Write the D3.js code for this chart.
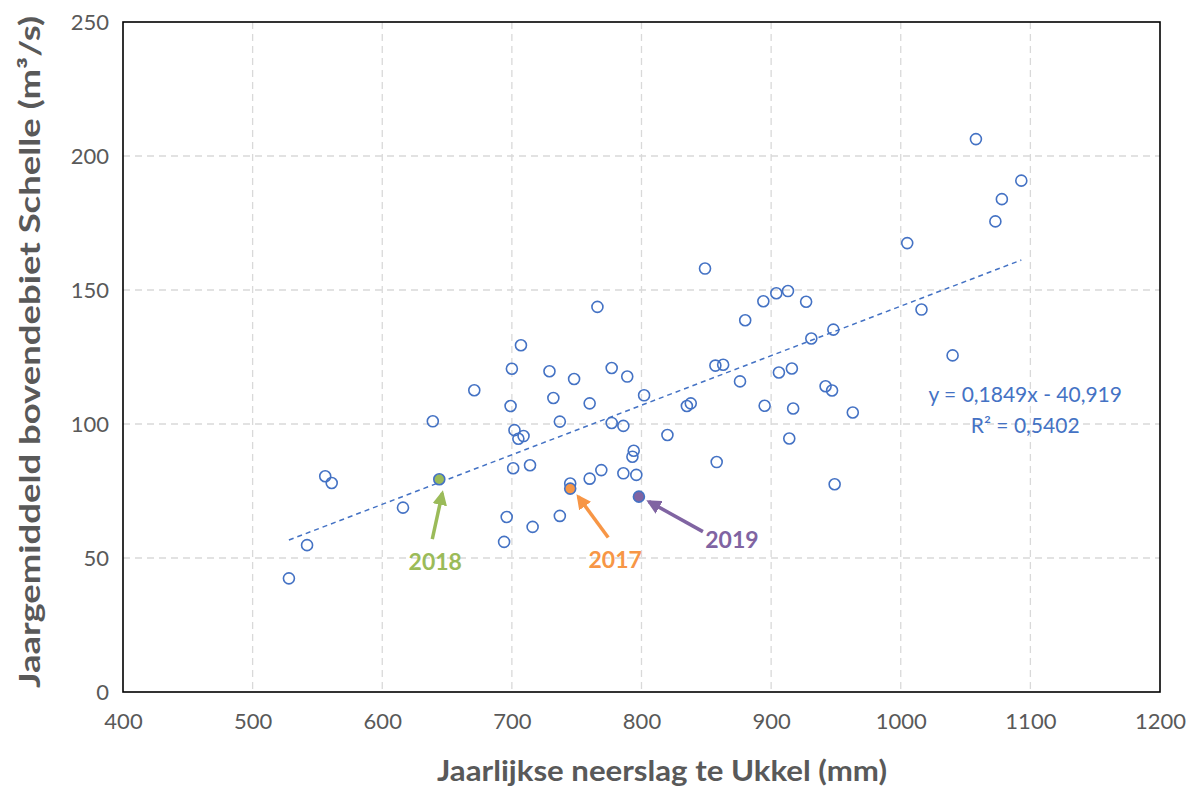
<!DOCTYPE html>
<html>
<head>
<meta charset="utf-8">
<script src="https://cdn.jsdelivr.net/npm/d3@7"></script>
<style>
  body { margin: 0; background: #fff; }
  svg text { font-family: Lato, "Open Sans", sans-serif; }
</style>
</head>
<body>
<svg width="1190" height="789"></svg>
<script>
// Annual precipitation at Ukkel (mm) and annual mean upstream discharge at Schelle (m3/s)
let precipitation = [528, 542, 556, 561, 616, 639, 671, 694, 696, 699, 700, 701, 702, 705, 707, 709, 714, 716,
    729, 732, 737, 737, 745, 748, 760, 760, 766, 769, 777, 777, 786, 786, 789, 793, 794, 796, 802, 820,
    835, 838, 849, 858, 857, 863, 876, 880, 894, 895, 904, 906, 913, 914, 916, 917, 927, 931, 942, 947,
    948, 949, 963, 1005, 1016, 1040, 1058, 1073, 1078, 1093];
let discharge = [42.4, 54.8, 80.5, 78.0, 68.8, 101.0, 112.6, 56.0, 65.3, 106.7, 120.6, 83.5, 97.7, 94.5, 129.4, 95.5, 84.6, 61.6,
    119.7, 109.7, 100.9, 65.7, 77.8, 116.8, 107.7, 79.6, 143.7, 82.8, 120.9, 100.4, 99.3, 81.6, 117.7, 87.8, 90.0, 81.0, 110.7, 95.9,
    106.7, 107.7, 158.0, 85.8, 121.8, 122.1, 115.9, 138.7, 145.8, 106.8, 148.8, 119.2, 149.6, 94.6, 120.7, 105.8, 145.6, 131.9, 114.1, 112.5,
    135.2, 77.5, 104.3, 167.5, 142.7, 125.6, 206.3, 175.6, 183.9, 190.8];

// Highlighted years
let highlightYears = ["2018", "2017", "2019"];
let highlightX = [644, 745, 798];
let highlightY = [79.4, 75.9, 72.9];
let highlightColors = ["#9bbb59", "#f79646", "#8064a2"];

// Linear trend (Excel)
let slope = 0.1849;
let intercept = -40.919;
let trendRange = [528, 1093];
let equationLines = ["y = 0,1849x - 40,919", "R² = 0,5402"];

let xTicks = [400, 500, 600, 700, 800, 900, 1000, 1100, 1200];
let yTicks = [0, 50, 100, 150, 200, 250];

let svg = d3.select("svg");
let margin = { left: 123, right: 30, top: 22, bottom: 97 };
let width = +svg.attr("width") - margin.left - margin.right;
let height = +svg.attr("height") - margin.top - margin.bottom;
let blue = "#4472c4";

let x = d3.scaleLinear().domain([400, 1200]).range([0, width]);
let y = d3.scaleLinear().domain([0, 250]).range([height, 0]);

let defs = svg.append("defs");
highlightColors.forEach((c, i) => {
    defs.append("marker")
        .attr("id", "arrow" + i)
        .attr("viewBox", "0 0 10 10")
        .attr("refX", 8).attr("refY", 5)
        .attr("markerWidth", 4.2).attr("markerHeight", 4.2)
        .attr("markerUnits", "strokeWidth")
        .attr("orient", "auto")
        .append("path").attr("d", "M0,0 L10,5 L0,10 z").attr("fill", c);
});

let plot = svg.append("g").attr("transform", `translate(${margin.left},${margin.top})`);

// Grid
plot.append("g").selectAll("line").data(yTicks.slice(1, -1)).join("line")
    .attr("x1", 0).attr("x2", width)
    .attr("y1", d => y(d)).attr("y2", d => y(d))
    .attr("stroke", "#d9d9d9").attr("stroke-width", 1.3).attr("stroke-dasharray", "7,5");
plot.append("g").selectAll("line").data(xTicks.slice(1, -1)).join("line")
    .attr("y1", 0).attr("y2", height)
    .attr("x1", d => x(d)).attr("x2", d => x(d))
    .attr("stroke", "#d9d9d9").attr("stroke-width", 1.3).attr("stroke-dasharray", "7,5");

// Axes
let xAxis = plot.append("g").attr("transform", `translate(0,${height})`)
    .call(d3.axisBottom(x).tickValues(xTicks).tickFormat(d3.format("d")).tickSize(0).tickPadding(21));
let yAxis = plot.append("g")
    .call(d3.axisLeft(y).tickValues(yTicks).tickFormat(d3.format("d")).tickSize(0).tickPadding(14));
[xAxis, yAxis].forEach(a => {
    a.select(".domain").remove();
    a.selectAll("text").attr("font-size", 22).attr("fill", "#595959")
        .attr("font-family", "Lato, 'Open Sans', sans-serif");
});

// Frame
plot.append("rect").attr("width", width).attr("height", height)
    .attr("fill", "none").attr("stroke", "#000").attr("stroke-width", 1.6);

// Trend line
plot.append("line")
    .attr("x1", x(trendRange[0])).attr("y1", y(slope * trendRange[0] + intercept))
    .attr("x2", x(trendRange[1])).attr("y2", y(slope * trendRange[1] + intercept))
    .attr("stroke", blue).attr("stroke-width", 1.5).attr("stroke-dasharray", "5,4");

// Points
plot.append("g").selectAll("circle").data(precipitation).join("circle")
    .attr("cx", d => x(d))
    .attr("cy", (d, i) => y(discharge[i]))
    .attr("r", 5.5)
    .attr("fill", "none")
    .attr("stroke", blue).attr("stroke-width", 1.6);

plot.append("g").selectAll("circle").data(highlightX).join("circle")
    .attr("cx", d => x(d))
    .attr("cy", (d, i) => y(highlightY[i]))
    .attr("r", 5.5)
    .attr("fill", (d, i) => highlightColors[i])
    .attr("stroke", blue).attr("stroke-width", 1.6);

// Annotations (arrow tail / head and label offsets, in px from the point)
let arrowTail = [[-7, 60], [38, 49], [64, 35]];
let arrowHead = [[3, 14], [8, 8], [10, 5]];
let labelPos = [[-4, 91], [45, 79], [93, 51]];
plot.append("g").selectAll("line").data(highlightX).join("line")
    .attr("x1", (d, i) => x(d) + arrowTail[i][0])
    .attr("y1", (d, i) => y(highlightY[i]) + arrowTail[i][1])
    .attr("x2", (d, i) => x(d) + arrowHead[i][0])
    .attr("y2", (d, i) => y(highlightY[i]) + arrowHead[i][1])
    .attr("stroke", (d, i) => highlightColors[i])
    .attr("stroke-width", 3.5)
    .attr("marker-end", (d, i) => `url(#arrow${i})`);
plot.append("g").selectAll("text").data(highlightYears).join("text")
    .attr("x", (d, i) => x(highlightX[i]) + labelPos[i][0])
    .attr("y", (d, i) => y(highlightY[i]) + labelPos[i][1])
    .attr("text-anchor", "middle")
    .attr("font-size", 23).attr("font-weight", "bold")
    .attr("fill", (d, i) => highlightColors[i])
    .text(d => d);

// Equation
plot.append("g").selectAll("text").data(equationLines).join("text")
    .attr("x", x(1096))
    .attr("y", (d, i) => y(108.2 - i * 11.4))
    .attr("text-anchor", "middle")
    .attr("fill", blue).attr("font-size", 21)
    .text(d => d);

// Axis titles
svg.append("text")
    .attr("x", 662).attr("y", 781)
    .attr("text-anchor", "middle")
    .attr("font-size", 28).attr("font-weight", "bold").attr("fill", "#595959")
    .attr("textLength", 450).attr("lengthAdjust", "spacingAndGlyphs")
    .text("Jaarlijkse neerslag te Ukkel (mm)");
svg.append("text")
    .attr("transform", `translate(40,352) rotate(-90)`)
    .attr("text-anchor", "middle")
    .attr("font-size", 28).attr("font-weight", "bold").attr("fill", "#595959")
    .attr("textLength", 672).attr("lengthAdjust", "spacingAndGlyphs")
    .text("Jaargemiddeld bovendebiet Schelle (m³/s)");
</script>
</body>
</html>
